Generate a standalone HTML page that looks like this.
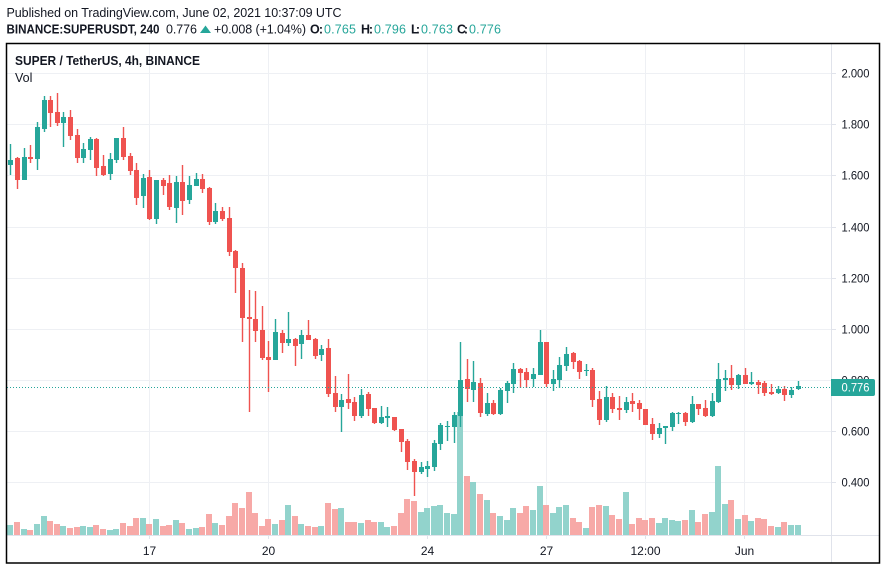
<!DOCTYPE html>
<html lang="en">
<head>
<meta charset="utf-8">
<title>SUPER / TetherUS chart</title>
<style>
html,body{margin:0;padding:0;background:#fff;}
body{width:886px;height:570px;overflow:hidden;}
svg{display:block;font-family:"Liberation Sans",sans-serif;}
text{fill:#131722;}
</style>
</head>
<body>
<svg id="chart" width="886" height="570" viewBox="0 0 886 570" xmlns="http://www.w3.org/2000/svg">
  <text x="6.5" y="17" font-size="12.5" textLength="335" lengthAdjust="spacing" fill="#333">Published on TradingView.com, June 02, 2021 10:37:09 UTC</text>
  <g font-size="12.5">
    <text x="6.5" y="33.5" font-weight="bold" textLength="153" lengthAdjust="spacingAndGlyphs">BINANCE:SUPERUSDT, 240</text>
    <text x="166" y="33.5" textLength="31">0.776</text>
    <polygon points="200,33 211,33 205.5,25.5" fill="#26a69a"/>
    <text x="214" y="33.5" textLength="92">+0.008 (+1.04%)</text>
    <text x="310" y="33.5" font-weight="bold" textLength="13">O:</text>
    <text x="324" y="33.5" textLength="32" style="fill:#26a69a">0.765</text>
    <text x="361" y="33.5" font-weight="bold" textLength="12">H:</text>
    <text x="374" y="33.5" textLength="32" style="fill:#26a69a">0.796</text>
    <text x="411" y="33.5" font-weight="bold" textLength="9">L:</text>
    <text x="421" y="33.5" textLength="32" style="fill:#26a69a">0.763</text>
    <text x="457" y="33.5" font-weight="bold" textLength="11">C:</text>
    <text x="469" y="33.5" textLength="32" style="fill:#26a69a">0.776</text>
  </g>
  <g id="grid"></g>
  <g id="axes"></g>
  <g id="volumes"></g>
  <g id="candles"></g>
  <text x="15" y="65" font-size="12.5" font-weight="bold" textLength="185" lengthAdjust="spacingAndGlyphs">SUPER / TetherUS, 4h, BINANCE</text>
  <text x="15" y="82" font-size="12.5">Vol</text>
  <g id="last"></g>
  <rect x="6.5" y="43.5" width="873" height="519.5" fill="none" stroke="#000" stroke-width="1.5"/>
</svg>
<script>
const opens = [
1.640,1.668,1.582,1.672,1.664,1.781,1.894,1.848,1.805,1.828,
1.758,1.668,1.699,1.742,1.637,1.605,1.660,1.746,1.676,1.621,
1.519,1.594,1.429,1.582,1.570,1.472,1.574,1.504,1.558,1.586,
1.551,1.418,1.461,1.433,1.304,1.238,1.047,1.039,0.996,0.890,
0.879,0.984,0.945,0.961,0.941,0.976,0.961,0.898,0.925,0.750,
0.695,0.726,0.714,0.660,0.746,0.691,0.632,0.652,0.656,0.609,
0.562,0.484,0.441,0.453,0.460,0.550,0.617,0.617,0.660,0.804,
0.761,0.789,0.667,0.710,0.667,0.757,0.785,0.843,0.832,0.804,
0.820,0.949,0.785,0.800,0.855,0.906,0.875,0.836,0.839,0.726,
0.644,0.734,0.691,0.683,0.718,0.710,0.687,0.628,0.589,0.613,
0.617,0.667,0.671,0.636,0.707,0.691,0.660,0.714,0.800,0.808,
0.781,0.820,0.785,0.793,0.789,0.753,0.750,0.765,0.742,0.765];
const highs = [
1.723,1.672,1.707,1.719,1.809,1.910,1.910,1.922,1.848,1.855,
1.781,1.726,1.750,1.746,1.680,1.687,1.746,1.789,1.687,1.648,
1.605,1.621,1.582,1.590,1.601,1.598,1.640,1.598,1.609,1.605,
1.555,1.492,1.476,1.476,1.308,1.257,1.152,1.148,1.090,0.953,
1.039,0.996,1.066,0.964,0.996,1.035,0.964,0.937,0.961,0.816,
0.746,0.824,0.734,0.765,0.753,0.691,0.699,0.695,0.656,0.609,
0.570,0.492,0.480,0.484,0.566,0.632,0.640,0.675,0.949,0.882,
0.875,0.808,0.750,0.722,0.769,0.796,0.867,0.847,0.847,0.847,
0.996,0.949,0.839,0.890,0.929,0.910,0.879,0.863,0.847,0.757,
0.777,0.750,0.738,0.734,0.750,0.722,0.687,0.652,0.632,0.621,
0.675,0.675,0.675,0.738,0.707,0.722,0.750,0.867,0.839,0.859,
0.824,0.847,0.832,0.800,0.796,0.785,0.777,0.777,0.773,0.796];
const lows = [
1.601,1.547,1.582,1.648,1.621,1.769,1.789,1.793,1.711,1.738,
1.648,1.648,1.660,1.598,1.598,1.582,1.648,1.660,1.601,1.484,
1.472,1.426,1.410,1.523,1.465,1.414,1.445,1.488,1.558,1.531,
1.406,1.410,1.422,1.285,1.140,0.949,0.675,0.949,0.879,0.753,
0.879,0.906,0.933,0.855,0.882,0.957,0.882,0.875,0.734,0.675,
0.597,0.687,0.640,0.652,0.660,0.628,0.628,0.617,0.601,0.519,
0.449,0.347,0.433,0.421,0.445,0.527,0.562,0.554,0.617,0.714,
0.714,0.656,0.660,0.664,0.664,0.710,0.750,0.769,0.769,0.773,
0.820,0.773,0.757,0.769,0.836,0.843,0.804,0.816,0.695,0.625,
0.636,0.671,0.644,0.671,0.675,0.644,0.625,0.566,0.574,0.550,
0.601,0.628,0.621,0.632,0.664,0.656,0.656,0.710,0.757,0.761,
0.765,0.785,0.781,0.746,0.738,0.742,0.746,0.718,0.730,0.763];
const closes = [
1.660,1.582,1.672,1.664,1.789,1.894,1.844,1.805,1.828,1.754,
1.668,1.703,1.742,1.629,1.601,1.664,1.746,1.672,1.617,1.512,
1.590,1.429,1.582,1.558,1.476,1.574,1.500,1.562,1.586,1.547,
1.418,1.461,1.429,1.300,1.238,1.043,1.039,0.992,0.886,0.879,
0.988,0.945,0.961,0.933,0.976,0.957,0.894,0.921,0.746,0.695,
0.722,0.710,0.660,0.742,0.687,0.632,0.656,0.660,0.605,0.558,
0.480,0.441,0.460,0.464,0.554,0.625,0.621,0.664,0.800,0.765,
0.793,0.671,0.710,0.667,0.761,0.789,0.843,0.828,0.800,0.824,
0.949,0.785,0.804,0.859,0.902,0.871,0.832,0.839,0.722,0.644,
0.734,0.687,0.683,0.714,0.707,0.687,0.625,0.589,0.613,0.621,
0.671,0.671,0.636,0.707,0.687,0.660,0.718,0.804,0.808,0.781,
0.820,0.785,0.793,0.781,0.750,0.746,0.765,0.742,0.761,0.776];
const volumes = [
100,130,60,50,110,190,140,110,90,70,
80,90,80,100,60,50,60,120,90,170,
170,110,160,90,100,150,120,60,70,80,
210,120,100,190,320,270,430,220,90,160,
110,150,300,190,110,90,80,90,320,260,
270,130,130,120,150,130,130,80,90,220,
360,340,230,270,290,300,220,210,1230,590,
530,410,350,220,190,150,270,220,290,250,
490,300,220,280,300,170,130,70,280,300,
290,200,160,430,110,170,150,170,120,170,
150,140,150,250,130,210,230,690,310,350,
160,200,140,170,160,90,80,130,100,100];
const priceTicks = [2.0,1.8,1.6,1.4,1.2,1.0,0.8,0.6,0.4];
const priceTickLabels = ["2.000","1.800","1.600","1.400","1.200","1.000","0.800","0.600","0.400"];
const timeTickBars = [21,39,63,81,96,111];
const timeTickLabels = ["17","20","24","27","12:00","Jun"];
const lastPrice = 0.776;
const lastPriceLabel = "0.776";

const UP = "#26a69a", DOWN = "#ef5350", UPV = "#92d3cc", DOWNV = "#f7a9a7", GRID = "#eef0f4", AXIS = "#e0e3eb";
const NS = "http://www.w3.org/2000/svg";
const xAxis = i => 10.95 + 6.614 * i;
const col = i => Math.floor(xAxis(i));
const yAxis = p => 73 + (2 - p) * 255.9;
const volAxis = v => 535 - v * 0.1;

function mk(parent, tag, attrs, text) {
  const el = document.createElementNS(NS, tag);
  for (const k in attrs) el.setAttribute(k, attrs[k]);
  if (text !== undefined) el.textContent = text;
  parent.appendChild(el);
  return el;
}
function box(parent, x, y, w, h, fill) {
  return mk(parent, "rect", {x: x, y: y, width: w, height: h, fill: fill, "shape-rendering": "crispEdges"});
}

const gGrid = document.getElementById("grid");
const gAxes = document.getElementById("axes");
const gVol = document.getElementById("volumes");
const gCandles = document.getElementById("candles");
const gLast = document.getElementById("last");

priceTicks.forEach((p, k) => {
  const y = Math.round(yAxis(p));
  const line = box(gGrid, 7, y, 825, 1, GRID);
  
  
  const tick = box(gAxes, 832, y, 4, 1, AXIS);
  
  
  const label = mk(gAxes, "text", {x: 841.5, y: y + 4.5, "font-size": 12, textLength: 28, lengthAdjust: "spacingAndGlyphs"}, priceTickLabels[k]);
  
  
});
timeTickBars.forEach((b, k) => {
  const x = Math.floor(xAxis(b) - 0.5);
  const line = box(gGrid, x, 44, 1, 491, GRID);
  
  
  const tick = box(gAxes, x, 535, 1, 4, AXIS);
  
  
  const label = mk(gAxes, "text", {x: x + 0.5, y: 555, "font-size": 12, "text-anchor": "middle"}, timeTickLabels[k]);
  
  
});
const priceBorder = box(gAxes, 831, 44, 1, 519, AXIS);


const timeBorder = box(gAxes, 7, 535, 872, 1, AXIS);



volumes.forEach((v, i) => {
  const top = Math.round(volAxis(v));
  const bar = box(gVol, col(i) - 3, top, 6, 535 - top, closes[i] >= opens[i] ? UPV : DOWNV);
  
  
});

opens.forEach((o, i) => {
  const c = closes[i], color = c >= o ? UP : DOWN, x = col(i);
  const yHigh = Math.round(yAxis(highs[i])), yLow = Math.round(yAxis(lows[i]));
  const top = Math.round(yAxis(Math.max(o, c))), bottom = Math.round(yAxis(Math.min(o, c)));
  const wick = mk(gCandles, "rect", {x: x - 0.2, y: yHigh, width: 1.4, height: Math.max(1, yLow - yHigh), fill: color});
  
  
  const body = box(gCandles, x - 2, top, 5, Math.max(1, bottom - top), color);
  
  
});

const yLast = Math.round(yAxis(lastPrice)) + 1;
const lastLine = mk(gLast, "line", {x1: 7, x2: 831, y1: yLast + 0.5, y2: yLast + 0.5, stroke: UP, "stroke-width": 1, "stroke-dasharray": "1 2"});


const tag = mk(gLast, "path", {d: `M831 ${yLast - 8}H873a2 2 0 0 1 2 2V${yLast + 7}a2 2 0 0 1 -2 2H831Z`, fill: UP});


const tagText = mk(gLast, "text", {x: 841.5, y: yLast + 4.5, "font-size": 12, textLength: 28, lengthAdjust: "spacingAndGlyphs", style: "fill:#fff"}, lastPriceLabel);


</script>
</body>
</html>
